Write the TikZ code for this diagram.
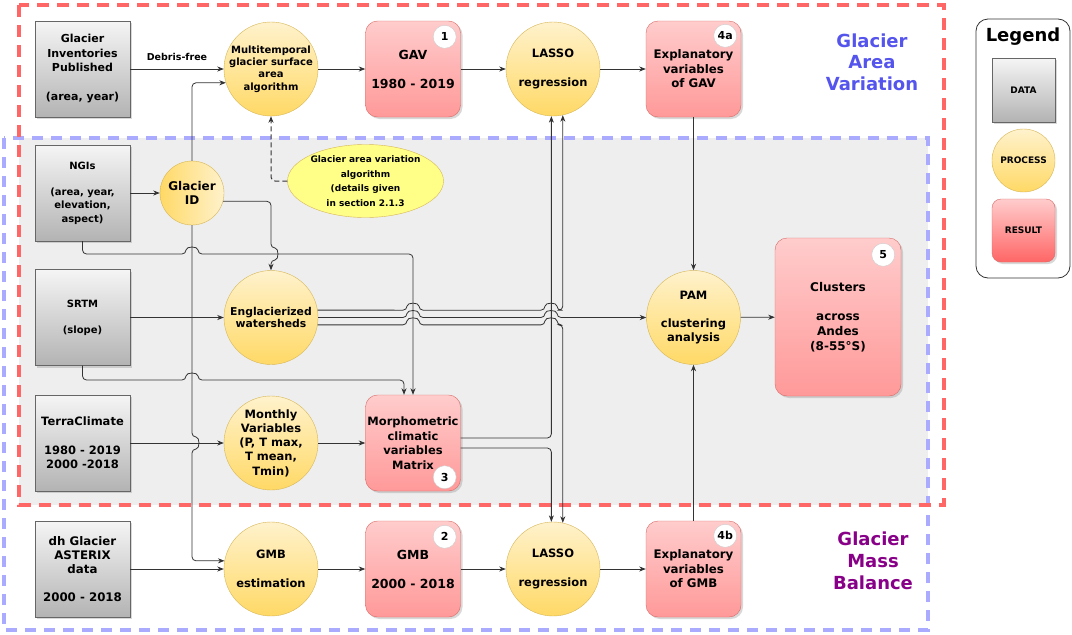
\documentclass[tikz,border=0pt]{standalone}
\usepackage{fontspec}
\setmainfont{DejaVu Sans}
\usetikzlibrary{arrows.meta,shapes.geometric,shadows}

\definecolor{datatop}{HTML}{F5F5F5}
\definecolor{databot}{HTML}{B3B3B3}
\definecolor{dataline}{HTML}{666666}
\definecolor{proctop}{HTML}{FFF2CC}
\definecolor{procbot}{HTML}{FFD966}
\definecolor{procline}{HTML}{D6B656}
\definecolor{restop}{HTML}{FFCCCC}
\definecolor{resbot}{HTML}{FF9999}
\definecolor{resdeep}{HTML}{FF6666}
\definecolor{resline}{HTML}{D86A66}
\definecolor{areared}{HTML}{FF6666}
\definecolor{massblue}{HTML}{AAAAFF}
\definecolor{panel}{HTML}{EEEEEE}
\definecolor{areatext}{HTML}{5555EE}
\definecolor{masstext}{HTML}{880088}
\definecolor{notefill}{HTML}{FFFF88}
\definecolor{wire}{HTML}{333333}

\newcommand\fs[2]{\fontsize{#1}{#2}\selectfont}

\tikzset{
  data/.style={rectangle, draw=dataline, top color=datatop, bottom color=databot,
    minimum width=95pt, minimum height=96pt, align=center,
    drop shadow={shadow xshift=2pt, shadow yshift=-2pt, opacity=.3}},
  proc/.style={circle, draw=procline, top color=proctop, bottom color=procbot,
    minimum size=94pt, inner sep=-4pt, align=center},
  result/.style={rectangle, rounded corners=12pt, draw=resline, top color=restop,
    bottom color=resbot, minimum width=95pt, minimum height=96pt, inner xsep=1pt,
    align=center, drop shadow={shadow xshift=2pt, shadow yshift=-2pt, opacity=.3}},
  badge/.style={circle, draw=black!20, fill=white, minimum size=23pt, inner sep=0pt,
    font=\bfseries\fs{11}{13}},
  link/.style={draw=wire, line width=.8pt, rounded corners=4pt,
    -{Stealth[length=6.5pt,width=5pt,inset=2pt]}},
}

\begin{document}
\begin{tikzpicture}[x=1pt, y=-1pt]
  \useasboundingbox (0,0) rectangle (1072,635);
  \fill[white] (0,0) rectangle (1072,635);
  % frames
  \fill[panel] (19,138) rectangle (928,505);
  \draw[massblue, line width=3.5pt, dash pattern=on 11pt off 8pt] (4,138) rectangle (928,630);
  \draw[areared, line width=3.5pt, dash pattern=on 12pt off 8pt] (19,5) rectangle (944,505);

  % data
  \node[data, font=\bfseries\fs{11}{14.5}] (gip) at (82.5,69)
    {Glacier\\Inventories\\Published\\[\baselineskip](area, year)};
  \node[data, font=\bfseries\fs{10}{13.3}] (ngi) at (82.5,193)
    {NGIs\\[\baselineskip](area, year,\\elevation,\\aspect)};
  \node[data, font=\bfseries\fs{10}{13}] (srtm) at (82.5,317.5)
    {SRTM\\[\baselineskip](slope)};
  \node[data, font=\bfseries\fs{11.5}{14.3}] (terra) at (82.5,443)
    {TerraClimate\\[\baselineskip]1980 - 2019\\2000 -2018};
  \node[data, font=\bfseries\fs{11.8}{14}] (dh) at (82.5,569)
    {dh Glacier\\ASTERIX\\data\\[\baselineskip]2000 - 2018};

  % processes
  \node[proc, font=\bfseries\fs{10}{12.3}] (mult) at (271,69)
    {Multitemporal\\glacier surface\\area\\algorithm};
  \node[proc, minimum size=64pt, left color=procbot, right color=proctop,
    font=\bfseries\fs{12}{14}] (gid) at (192,193) {Glacier\\ID};
  \node[proc, font=\bfseries\fs{10.8}{12.5}] (eng) at (271,317.5)
    {Englacierized\\watersheds};
  \node[proc, font=\bfseries\fs{11.5}{14.2}] (month) at (271,443)
    {Monthly\\Variables\\(P, T max,\\T mean,\\Tmin)};
  \node[proc, font=\bfseries\fs{11.5}{14.5}] (gmbe) at (271,569)
    {GMB\\[\baselineskip]estimation};
  \node[proc, font=\bfseries\fs{11.5}{14.5}] (lassoA) at (553,69)
    {LASSO\\[\baselineskip]regression};
  \node[proc, font=\bfseries\fs{11.5}{14.5}] (lassoB) at (553,569)
    {LASSO\\[\baselineskip]regression};
  \node[proc, font=\bfseries\fs{11.5}{14}] (pam) at (693.5,317.5)
    {PAM\\[\baselineskip]clustering\\analysis};
  \node[ellipse, draw=procline, fill=notefill, minimum width=156pt, minimum height=73pt,
    inner xsep=-1pt, inner ysep=-1pt, align=center, font=\bfseries\fs{9}{14.5}] (note)
    at (365.5,181) {Glacier area variation\\algorithm\\(details given\\in section 2.1.3};

  % results
  \node[result, font=\bfseries\fs{12.5}{14.5}] (gav) at (413,69)
    {GAV\\[\baselineskip]1980 - 2019};
  \node[result, font=\bfseries\fs{11.8}{14.5}] (expA) at (693.5,69)
    {Explanatory\\variables\\of GAV};
  \node[result, font=\bfseries\fs{11.5}{14.5}] (morph) at (413,443)
    {Morphometric\\climatic\\variables\\Matrix};
  \node[result, font=\bfseries\fs{12.5}{14.5}] (gmb) at (413,569)
    {GMB\\[\baselineskip]2000 - 2018};
  \node[result, font=\bfseries\fs{11.8}{14.5}] (expB) at (693.5,569)
    {Explanatory\\variables\\of GMB};
  \node[result, minimum width=126pt, minimum height=158pt, font=\bfseries\fs{12}{14.8}]
    (clus) at (838,317) {Clusters\\[\baselineskip]across\\Andes\\(8-55°S)};

  \node[badge] (n1) at ([xshift=-16pt,yshift=-16pt]gav.north east) {1};
  \node[badge] (n2) at ([xshift=-16pt,yshift=-16pt]gmb.north east) {2};
  \node[badge] (n3) at ([xshift=-16pt,yshift=14pt]morph.south east) {3};
  \node[badge] (n4a) at ([xshift=-16pt,yshift=-15pt]expA.north east) {4a};
  \node[badge] (n4b) at ([xshift=-16pt,yshift=-15pt]expB.north east) {4b};
  \node[badge] (n5) at ([xshift=-18pt,yshift=-17pt]clus.north east) {5};

  % group names
  \node[text=areatext, align=center, font=\bfseries\fs{18}{21.5}] (areaname) at (872,62)
    {Glacier\\Area\\Variation};
  \node[text=masstext, align=center, font=\bfseries\fs{18}{22}] (massname) at (873,561)
    {Glacier\\Mass\\Balance};

  % legend
  \node[draw=black!80, line width=.8pt, rounded corners=12pt, minimum width=94pt,
    minimum height=259pt] (legend) at (1023,148.5) {};
  \node[font=\bfseries\fs{18}{21}] (legendtitle) at (1023,37) {Legend};
  \node[data, minimum width=63pt, minimum height=64pt, font=\bfseries\fs{9}{11}]
    (keydata) at (1023.5,90) {DATA};
  \node[proc, minimum size=63pt, font=\bfseries\fs{9}{11}] (keyproc) at (1023.5,160.5)
    {PROCESS};
  \node[result, minimum width=63pt, minimum height=63pt, rounded corners=9pt,
    bottom color=resdeep, font=\bfseries\fs{9}{11}] (keyres) at (1023.5,230.5) {RESULT};

  % connectors
  \draw[link] (gip) -- node[above, yshift=5pt, text=black, font=\bfseries\fs{9.5}{11}]
    (debris) {Debris-free} (mult);
  \draw[link] (mult) -- (gav);
  \draw[link] (gav) -- (lassoA);
  \draw[link] (lassoA) -- (expA);
  \draw[link] (expA) -- (pam);
  \draw[link] (expB) -- (pam);
  \draw[link] (pam) -- (clus);
  \draw[link] (ngi) -- (gid);
  \draw[link] (srtm) -- (eng);
  \draw[link] (terra) -- (month);
  \draw[link] (month) -- (morph);
  \draw[link] (dh) -- (gmbe);
  \draw[link] (gmbe) -- (gmb);
  \draw[link] (gmb) -- (lassoB);
  \draw[link] (lassoB) -- (expB);
  \draw[link, dash pattern=on 5pt off 3pt, line width=1pt] (note.west) -| (mult.south);

  \draw[link] (gid.north) |- (mult.197);
  \draw[link] (gid.south) -- (192,437) .. controls +(8,0) and +(8,0) .. (192,449)
    -- (gid.south |- gmbe.170) -- (gmbe.170);
  \draw[link] (gid.-15) -- (gid.-15 -| eng.north) -- (eng.north |- 0,248)
    .. controls +(8,0) and +(8,0) .. (eng.north |- 0,260) -- (eng.north);
  \draw[link] (ngi.south) -- (ngi.south |- 0,254) -- (186,254)
    .. controls +(0,-8) and +(0,-8) .. (198,254) -- (morph.north |- 0,254) -- (morph.north);
  \coordinate (mtl) at ([xshift=-9pt]morph.north);
  \draw[link] (srtm.south) -- (srtm.south |- 0,380) -- (186,380)
    .. controls +(0,-8) and +(0,-8) .. (198,380) -- (mtl |- 0,380) -- (mtl);

  \draw[link] (eng.9) -- (407,310.15) .. controls +(0,-8) and +(0,-8) .. (419,310.15)
    -- (545,310.15) .. controls +(0,-8) and +(0,-8) .. (557,310.15)
    -- (lassoA.-78 |- eng.9) -- (lassoA.-78);
  \draw[link] (eng) -- (407,317.5) .. controls +(0,-8) and +(0,-8) .. (419,317.5)
    -- (545,317.5) .. controls +(0,-8) and +(0,-8) .. (557,317.5) -- (pam);
  \draw[link] (eng.-9) -- (407,324.85) .. controls +(0,-8) and +(0,-8) .. (419,324.85)
    -- (545,324.85) .. controls +(0,-8) and +(0,-8) .. (557,324.85)
    -- (lassoB.78 |- eng.-9) -- (lassoB.78);

  \coordinate (mr1) at ([yshift=5pt]morph.east);
  \coordinate (mr2) at ([yshift=-5pt]morph.east);
  \draw[link] (mr1) -- (lassoA.-92 |- mr1) -- (lassoA.-92);
  \draw[link] (mr2) -- (lassoB.92 |- mr2) -- (lassoB.92);
\end{tikzpicture}
\end{document}
